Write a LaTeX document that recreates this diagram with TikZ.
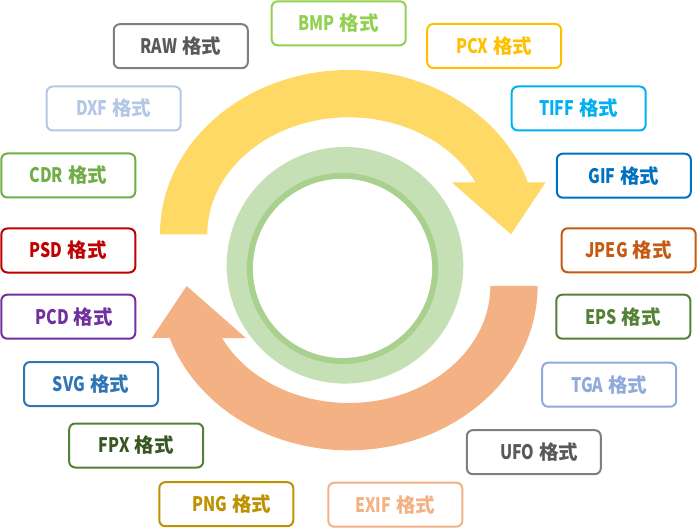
\documentclass[tikz,border=0pt]{standalone}
\usepackage{fontspec}
\newfontfamily\cjkf{Noto Sans CJK SC}
\newfontfamily\latf{Noto Sans CJK SC}[FakeStretch=0.8]
\newcommand{\lbl}[1]{{\latf\bfseries\fontsize{20}{20}\selectfont #1}\hspace{5pt}{\cjkf\bfseries\fontsize{19.5}{19.5}\selectfont 格式}}
\definecolor{cyel}{HTML}{FFD966}
\definecolor{cora}{HTML}{F4B183}
\definecolor{cgl}{HTML}{C5E0B4}
\definecolor{cgd}{HTML}{A9D18E}
\definecolor{cbmp}{HTML}{92D050}
\definecolor{craw}{HTML}{7F7F7F}
\definecolor{crawt}{HTML}{595959}
\definecolor{cdxf}{HTML}{B4C7E7}
\definecolor{cpcx}{HTML}{FFC000}
\definecolor{ctiff}{HTML}{00B0F0}
\definecolor{cgif}{HTML}{0070C0}
\definecolor{ccdr}{HTML}{70AD47}
\definecolor{cpsd}{HTML}{C00000}
\definecolor{cpcd}{HTML}{7030A0}
\definecolor{cjpeg}{HTML}{C55A11}
\definecolor{ceps}{HTML}{538135}
\definecolor{ctga}{HTML}{8FAADC}
\definecolor{csvg}{HTML}{2E75B6}
\definecolor{cfpx}{HTML}{548235}
\definecolor{cfpxt}{HTML}{385723}
\definecolor{cpng}{HTML}{BF9000}
\tikzset{
  fbox/.style={draw=#1, text=#1, line width=2pt, rounded corners=6pt, minimum width=134pt, minimum height=44pt, inner sep=0pt, fill=white},
  fbox2/.style 2 args={fbox=#1, text=#2}
}
\begin{document}
\begin{tikzpicture}[x=1pt,y=-1pt]
\useasboundingbox (0,0) rectangle (698,529);
% green ring
\fill[cgl] (345,265.3) circle[radius=118.3];
\fill[cgd] (342.5,268.4) circle[radius=95.6];
\fill[white] (342.5,268.4) circle[radius=89.6];
% yellow arrow
\fill[cyel] (160,234.3) arc[start angle=180,end angle=341.55,x radius=188.8,y radius=164.3]
  -- (545.7,182.3) -- (511,234.3) -- (451.7,182.3) -- (475.5,182.3)
  arc[start angle=333.6,end angle=180,x radius=141.5,y radius=117] -- cycle;
% orange arrow
\begin{scope}[rotate around={180:(348.8,260.15)}]
\fill[cora] (160,234.3) arc[start angle=180,end angle=341.55,x radius=188.8,y radius=164.3]
  -- (545.7,182.3) -- (511,234.3) -- (451.7,182.3) -- (475.5,182.3)
  arc[start angle=333.6,end angle=180,x radius=141.5,y radius=117] -- cycle;
\end{scope}
% boxes
\node[fbox=cbmp] (bmp) at (338.7,23.3) {\lbl{BMP}};
\node[fbox2={craw}{crawt}] (raw) at (180.8,46.2) {\lbl{RAW}};
\node[fbox=cdxf] (dxf) at (113.7,108.5) {\lbl{DXF}};
\node[fbox=cpcx] (pcx) at (494.2,46) {\lbl{PCX}};
\node[fbox=ctiff] (tiff) at (578.7,108.5) {\lbl{TIFF}};
\node[fbox=cgif] (gif) at (623.8,175.7) {\lbl{GIF}};
\node[fbox=ccdr] (cdr) at (68.3,175.5) {\lbl{CDR}};
\node[fbox=cpsd] (psd) at (68.3,250.5) {\lbl{PSD}};
\node[fbox=cpcd, text width=134pt, align=center] (pcd) at (68.3,316.7) {\hspace*{12pt}\lbl{PCD}};
\node[fbox=cjpeg] (jpeg) at (628.7,250.3) {\lbl{JPEG}};
\node[fbox=ceps] (eps) at (623.3,316.7) {\lbl{EPS}};
\node[fbox=ctga] (tga) at (609.2,384.7) {\lbl{TGA}};
\node[fbox=csvg] (svg) at (91,384) {\lbl{SVG}};
\node[fbox2={cfpx}{cfpxt}] (fpx) at (136.2,445.5) {\lbl{FPX}};
\node[fbox=cpng, text width=134pt, align=center] (png) at (226.3,504.2) {\hspace*{11pt}\lbl{PNG}};
\node[fbox2={craw}{crawt}, text width=134pt, align=center] (ufo) at (533.8,452.2) {\hspace*{11pt}\lbl{UFO}};
\node[fbox=cora] (exif) at (395.3,504.7) {\lbl{EXIF}};
\end{tikzpicture}
\end{document}
